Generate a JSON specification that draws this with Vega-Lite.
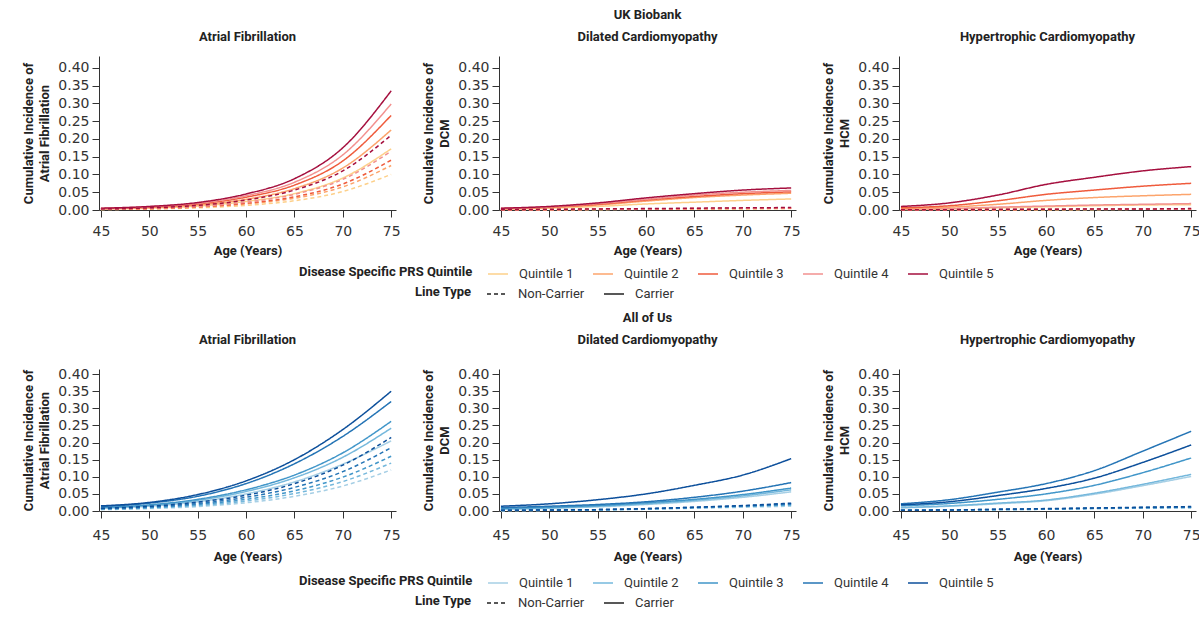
{
"$schema":"https://vega.github.io/schema/vega-lite/v6.json",
"padding":{"left":22,"top":9,"right":5,"bottom":5},
"background":"white",
"config":{
 "view":{"stroke":null},
 "font":"Roboto",
 "title":{"font":"Roboto","fontSize":13,"fontWeight":"bold","color":"#222","lineHeight":22,"anchor":"middle"},
 "axis":{"labelFont":"DejaVu Sans","labelFontSize":14,"labelColor":"#333","titleFont":"Roboto","titleFontSize":13,"titleFontWeight":"bold","titleColor":"#222","domainColor":"#333","tickColor":"#333","tickSize":7,"grid":false,"labelPadding":3,"titleLineHeight":16,"labelFlush":false,"labelOverlap":false},
 "axisX":{"labelPadding":7,"titlePadding":6},
 "axisY":{"titlePadding":6},
 "legend":{"symbolType":"stroke","symbolSize":400,"symbolStrokeWidth":1.5,"labelFont":"Roboto","labelFontSize":13,"labelColor":"#333","titleFont":"Roboto","titleFontSize":13,"titleFontWeight":"bold","titleColor":"#222","columnPadding":16,"labelOffset":10,"titlePadding":14,"padding":0,"direction":"horizontal","titleOrient":"left","orient":"none"}
},
"datasets":{
"ukb":[
{"d":"AF","c":"Carrier","q":"Quintile 1","a":45,"v":0.003},{"d":"AF","c":"Carrier","q":"Quintile 1","a":50,"v":0.005},{"d":"AF","c":"Carrier","q":"Quintile 1","a":55,"v":0.011},{"d":"AF","c":"Carrier","q":"Quintile 1","a":60,"v":0.024},{"d":"AF","c":"Carrier","q":"Quintile 1","a":65,"v":0.046},{"d":"AF","c":"Carrier","q":"Quintile 1","a":70,"v":0.090},{"d":"AF","c":"Carrier","q":"Quintile 1","a":75,"v":0.172},
{"d":"AF","c":"Carrier","q":"Quintile 2","a":45,"v":0.003},{"d":"AF","c":"Carrier","q":"Quintile 2","a":50,"v":0.007},{"d":"AF","c":"Carrier","q":"Quintile 2","a":55,"v":0.014},{"d":"AF","c":"Carrier","q":"Quintile 2","a":60,"v":0.030},{"d":"AF","c":"Carrier","q":"Quintile 2","a":65,"v":0.060},{"d":"AF","c":"Carrier","q":"Quintile 2","a":70,"v":0.118},{"d":"AF","c":"Carrier","q":"Quintile 2","a":75,"v":0.225},
{"d":"AF","c":"Carrier","q":"Quintile 3","a":45,"v":0.004},{"d":"AF","c":"Carrier","q":"Quintile 3","a":50,"v":0.008},{"d":"AF","c":"Carrier","q":"Quintile 3","a":55,"v":0.017},{"d":"AF","c":"Carrier","q":"Quintile 3","a":60,"v":0.036},{"d":"AF","c":"Carrier","q":"Quintile 3","a":65,"v":0.070},{"d":"AF","c":"Carrier","q":"Quintile 3","a":70,"v":0.138},{"d":"AF","c":"Carrier","q":"Quintile 3","a":75,"v":0.266},
{"d":"AF","c":"Carrier","q":"Quintile 4","a":45,"v":0.004},{"d":"AF","c":"Carrier","q":"Quintile 4","a":50,"v":0.009},{"d":"AF","c":"Carrier","q":"Quintile 4","a":55,"v":0.019},{"d":"AF","c":"Carrier","q":"Quintile 4","a":60,"v":0.040},{"d":"AF","c":"Carrier","q":"Quintile 4","a":65,"v":0.078},{"d":"AF","c":"Carrier","q":"Quintile 4","a":70,"v":0.155},{"d":"AF","c":"Carrier","q":"Quintile 4","a":75,"v":0.298},
{"d":"AF","c":"Carrier","q":"Quintile 5","a":45,"v":0.005},{"d":"AF","c":"Carrier","q":"Quintile 5","a":50,"v":0.010},{"d":"AF","c":"Carrier","q":"Quintile 5","a":55,"v":0.021},{"d":"AF","c":"Carrier","q":"Quintile 5","a":60,"v":0.045},{"d":"AF","c":"Carrier","q":"Quintile 5","a":65,"v":0.088},{"d":"AF","c":"Carrier","q":"Quintile 5","a":70,"v":0.175},{"d":"AF","c":"Carrier","q":"Quintile 5","a":75,"v":0.335},
{"d":"AF","c":"Non-Carrier","q":"Quintile 1","a":45,"v":0.001},{"d":"AF","c":"Non-Carrier","q":"Quintile 1","a":50,"v":0.003},{"d":"AF","c":"Non-Carrier","q":"Quintile 1","a":55,"v":0.006},{"d":"AF","c":"Non-Carrier","q":"Quintile 1","a":60,"v":0.013},{"d":"AF","c":"Non-Carrier","q":"Quintile 1","a":65,"v":0.026},{"d":"AF","c":"Non-Carrier","q":"Quintile 1","a":70,"v":0.052},{"d":"AF","c":"Non-Carrier","q":"Quintile 1","a":75,"v":0.100},
{"d":"AF","c":"Non-Carrier","q":"Quintile 2","a":45,"v":0.002},{"d":"AF","c":"Non-Carrier","q":"Quintile 2","a":50,"v":0.003},{"d":"AF","c":"Non-Carrier","q":"Quintile 2","a":55,"v":0.008},{"d":"AF","c":"Non-Carrier","q":"Quintile 2","a":60,"v":0.017},{"d":"AF","c":"Non-Carrier","q":"Quintile 2","a":65,"v":0.033},{"d":"AF","c":"Non-Carrier","q":"Quintile 2","a":70,"v":0.065},{"d":"AF","c":"Non-Carrier","q":"Quintile 2","a":75,"v":0.125},
{"d":"AF","c":"Non-Carrier","q":"Quintile 3","a":45,"v":0.002},{"d":"AF","c":"Non-Carrier","q":"Quintile 3","a":50,"v":0.004},{"d":"AF","c":"Non-Carrier","q":"Quintile 3","a":55,"v":0.009},{"d":"AF","c":"Non-Carrier","q":"Quintile 3","a":60,"v":0.019},{"d":"AF","c":"Non-Carrier","q":"Quintile 3","a":65,"v":0.037},{"d":"AF","c":"Non-Carrier","q":"Quintile 3","a":70,"v":0.073},{"d":"AF","c":"Non-Carrier","q":"Quintile 3","a":75,"v":0.140},
{"d":"AF","c":"Non-Carrier","q":"Quintile 4","a":45,"v":0.002},{"d":"AF","c":"Non-Carrier","q":"Quintile 4","a":50,"v":0.005},{"d":"AF","c":"Non-Carrier","q":"Quintile 4","a":55,"v":0.010},{"d":"AF","c":"Non-Carrier","q":"Quintile 4","a":60,"v":0.022},{"d":"AF","c":"Non-Carrier","q":"Quintile 4","a":65,"v":0.044},{"d":"AF","c":"Non-Carrier","q":"Quintile 4","a":70,"v":0.086},{"d":"AF","c":"Non-Carrier","q":"Quintile 4","a":75,"v":0.165},
{"d":"AF","c":"Non-Carrier","q":"Quintile 5","a":45,"v":0.003},{"d":"AF","c":"Non-Carrier","q":"Quintile 5","a":50,"v":0.006},{"d":"AF","c":"Non-Carrier","q":"Quintile 5","a":55,"v":0.013},{"d":"AF","c":"Non-Carrier","q":"Quintile 5","a":60,"v":0.028},{"d":"AF","c":"Non-Carrier","q":"Quintile 5","a":65,"v":0.056},{"d":"AF","c":"Non-Carrier","q":"Quintile 5","a":70,"v":0.110},{"d":"AF","c":"Non-Carrier","q":"Quintile 5","a":75,"v":0.210},
{"d":"DCM","c":"Carrier","q":"Quintile 1","a":45,"v":0.002},{"d":"DCM","c":"Carrier","q":"Quintile 1","a":50,"v":0.005},{"d":"DCM","c":"Carrier","q":"Quintile 1","a":55,"v":0.010},{"d":"DCM","c":"Carrier","q":"Quintile 1","a":60,"v":0.017},{"d":"DCM","c":"Carrier","q":"Quintile 1","a":65,"v":0.022},{"d":"DCM","c":"Carrier","q":"Quintile 1","a":70,"v":0.027},{"d":"DCM","c":"Carrier","q":"Quintile 1","a":75,"v":0.031},
{"d":"DCM","c":"Carrier","q":"Quintile 2","a":45,"v":0.003},{"d":"DCM","c":"Carrier","q":"Quintile 2","a":50,"v":0.007},{"d":"DCM","c":"Carrier","q":"Quintile 2","a":55,"v":0.014},{"d":"DCM","c":"Carrier","q":"Quintile 2","a":60,"v":0.025},{"d":"DCM","c":"Carrier","q":"Quintile 2","a":65,"v":0.035},{"d":"DCM","c":"Carrier","q":"Quintile 2","a":70,"v":0.042},{"d":"DCM","c":"Carrier","q":"Quintile 2","a":75,"v":0.047},
{"d":"DCM","c":"Carrier","q":"Quintile 3","a":45,"v":0.004},{"d":"DCM","c":"Carrier","q":"Quintile 3","a":50,"v":0.008},{"d":"DCM","c":"Carrier","q":"Quintile 3","a":55,"v":0.016},{"d":"DCM","c":"Carrier","q":"Quintile 3","a":60,"v":0.028},{"d":"DCM","c":"Carrier","q":"Quintile 3","a":65,"v":0.038},{"d":"DCM","c":"Carrier","q":"Quintile 3","a":70,"v":0.046},{"d":"DCM","c":"Carrier","q":"Quintile 3","a":75,"v":0.051},
{"d":"DCM","c":"Carrier","q":"Quintile 4","a":45,"v":0.004},{"d":"DCM","c":"Carrier","q":"Quintile 4","a":50,"v":0.009},{"d":"DCM","c":"Carrier","q":"Quintile 4","a":55,"v":0.018},{"d":"DCM","c":"Carrier","q":"Quintile 4","a":60,"v":0.030},{"d":"DCM","c":"Carrier","q":"Quintile 4","a":65,"v":0.042},{"d":"DCM","c":"Carrier","q":"Quintile 4","a":70,"v":0.050},{"d":"DCM","c":"Carrier","q":"Quintile 4","a":75,"v":0.055},
{"d":"DCM","c":"Carrier","q":"Quintile 5","a":45,"v":0.005},{"d":"DCM","c":"Carrier","q":"Quintile 5","a":50,"v":0.010},{"d":"DCM","c":"Carrier","q":"Quintile 5","a":55,"v":0.020},{"d":"DCM","c":"Carrier","q":"Quintile 5","a":60,"v":0.034},{"d":"DCM","c":"Carrier","q":"Quintile 5","a":65,"v":0.046},{"d":"DCM","c":"Carrier","q":"Quintile 5","a":70,"v":0.056},{"d":"DCM","c":"Carrier","q":"Quintile 5","a":75,"v":0.062},
{"d":"DCM","c":"Non-Carrier","q":"Quintile 1","a":45,"v":0.000},{"d":"DCM","c":"Non-Carrier","q":"Quintile 1","a":50,"v":0.001},{"d":"DCM","c":"Non-Carrier","q":"Quintile 1","a":55,"v":0.001},{"d":"DCM","c":"Non-Carrier","q":"Quintile 1","a":60,"v":0.002},{"d":"DCM","c":"Non-Carrier","q":"Quintile 1","a":65,"v":0.003},{"d":"DCM","c":"Non-Carrier","q":"Quintile 1","a":70,"v":0.003},{"d":"DCM","c":"Non-Carrier","q":"Quintile 1","a":75,"v":0.004},
{"d":"DCM","c":"Non-Carrier","q":"Quintile 2","a":45,"v":0.000},{"d":"DCM","c":"Non-Carrier","q":"Quintile 2","a":50,"v":0.001},{"d":"DCM","c":"Non-Carrier","q":"Quintile 2","a":55,"v":0.002},{"d":"DCM","c":"Non-Carrier","q":"Quintile 2","a":60,"v":0.002},{"d":"DCM","c":"Non-Carrier","q":"Quintile 2","a":65,"v":0.003},{"d":"DCM","c":"Non-Carrier","q":"Quintile 2","a":70,"v":0.004},{"d":"DCM","c":"Non-Carrier","q":"Quintile 2","a":75,"v":0.005},
{"d":"DCM","c":"Non-Carrier","q":"Quintile 3","a":45,"v":0.001},{"d":"DCM","c":"Non-Carrier","q":"Quintile 3","a":50,"v":0.001},{"d":"DCM","c":"Non-Carrier","q":"Quintile 3","a":55,"v":0.002},{"d":"DCM","c":"Non-Carrier","q":"Quintile 3","a":60,"v":0.003},{"d":"DCM","c":"Non-Carrier","q":"Quintile 3","a":65,"v":0.004},{"d":"DCM","c":"Non-Carrier","q":"Quintile 3","a":70,"v":0.005},{"d":"DCM","c":"Non-Carrier","q":"Quintile 3","a":75,"v":0.005},
{"d":"DCM","c":"Non-Carrier","q":"Quintile 4","a":45,"v":0.001},{"d":"DCM","c":"Non-Carrier","q":"Quintile 4","a":50,"v":0.001},{"d":"DCM","c":"Non-Carrier","q":"Quintile 4","a":55,"v":0.002},{"d":"DCM","c":"Non-Carrier","q":"Quintile 4","a":60,"v":0.003},{"d":"DCM","c":"Non-Carrier","q":"Quintile 4","a":65,"v":0.004},{"d":"DCM","c":"Non-Carrier","q":"Quintile 4","a":70,"v":0.005},{"d":"DCM","c":"Non-Carrier","q":"Quintile 4","a":75,"v":0.006},
{"d":"DCM","c":"Non-Carrier","q":"Quintile 5","a":45,"v":0.001},{"d":"DCM","c":"Non-Carrier","q":"Quintile 5","a":50,"v":0.002},{"d":"DCM","c":"Non-Carrier","q":"Quintile 5","a":55,"v":0.003},{"d":"DCM","c":"Non-Carrier","q":"Quintile 5","a":60,"v":0.004},{"d":"DCM","c":"Non-Carrier","q":"Quintile 5","a":65,"v":0.005},{"d":"DCM","c":"Non-Carrier","q":"Quintile 5","a":70,"v":0.006},{"d":"DCM","c":"Non-Carrier","q":"Quintile 5","a":75,"v":0.007},
{"d":"HCM","c":"Carrier","q":"Quintile 1","a":45,"v":0.001},{"d":"HCM","c":"Carrier","q":"Quintile 1","a":50,"v":0.003},{"d":"HCM","c":"Carrier","q":"Quintile 1","a":55,"v":0.006},{"d":"HCM","c":"Carrier","q":"Quintile 1","a":60,"v":0.009},{"d":"HCM","c":"Carrier","q":"Quintile 1","a":65,"v":0.012},{"d":"HCM","c":"Carrier","q":"Quintile 1","a":70,"v":0.014},{"d":"HCM","c":"Carrier","q":"Quintile 1","a":75,"v":0.015},
{"d":"HCM","c":"Carrier","q":"Quintile 4","a":45,"v":0.002},{"d":"HCM","c":"Carrier","q":"Quintile 4","a":50,"v":0.004},{"d":"HCM","c":"Carrier","q":"Quintile 4","a":55,"v":0.008},{"d":"HCM","c":"Carrier","q":"Quintile 4","a":60,"v":0.011},{"d":"HCM","c":"Carrier","q":"Quintile 4","a":65,"v":0.014},{"d":"HCM","c":"Carrier","q":"Quintile 4","a":70,"v":0.016},{"d":"HCM","c":"Carrier","q":"Quintile 4","a":75,"v":0.018},
{"d":"HCM","c":"Carrier","q":"Quintile 2","a":45,"v":0.004},{"d":"HCM","c":"Carrier","q":"Quintile 2","a":50,"v":0.008},{"d":"HCM","c":"Carrier","q":"Quintile 2","a":55,"v":0.016},{"d":"HCM","c":"Carrier","q":"Quintile 2","a":60,"v":0.027},{"d":"HCM","c":"Carrier","q":"Quintile 2","a":65,"v":0.035},{"d":"HCM","c":"Carrier","q":"Quintile 2","a":70,"v":0.040},{"d":"HCM","c":"Carrier","q":"Quintile 2","a":75,"v":0.044},
{"d":"HCM","c":"Carrier","q":"Quintile 3","a":45,"v":0.006},{"d":"HCM","c":"Carrier","q":"Quintile 3","a":50,"v":0.012},{"d":"HCM","c":"Carrier","q":"Quintile 3","a":55,"v":0.026},{"d":"HCM","c":"Carrier","q":"Quintile 3","a":60,"v":0.044},{"d":"HCM","c":"Carrier","q":"Quintile 3","a":65,"v":0.056},{"d":"HCM","c":"Carrier","q":"Quintile 3","a":70,"v":0.067},{"d":"HCM","c":"Carrier","q":"Quintile 3","a":75,"v":0.075},
{"d":"HCM","c":"Carrier","q":"Quintile 5","a":45,"v":0.010},{"d":"HCM","c":"Carrier","q":"Quintile 5","a":50,"v":0.020},{"d":"HCM","c":"Carrier","q":"Quintile 5","a":55,"v":0.042},{"d":"HCM","c":"Carrier","q":"Quintile 5","a":60,"v":0.072},{"d":"HCM","c":"Carrier","q":"Quintile 5","a":65,"v":0.092},{"d":"HCM","c":"Carrier","q":"Quintile 5","a":70,"v":0.110},{"d":"HCM","c":"Carrier","q":"Quintile 5","a":75,"v":0.122},
{"d":"HCM","c":"Non-Carrier","q":"Quintile 1","a":45,"v":0.000},{"d":"HCM","c":"Non-Carrier","q":"Quintile 1","a":50,"v":0.000},{"d":"HCM","c":"Non-Carrier","q":"Quintile 1","a":55,"v":0.001},{"d":"HCM","c":"Non-Carrier","q":"Quintile 1","a":60,"v":0.001},{"d":"HCM","c":"Non-Carrier","q":"Quintile 1","a":65,"v":0.001},{"d":"HCM","c":"Non-Carrier","q":"Quintile 1","a":70,"v":0.002},{"d":"HCM","c":"Non-Carrier","q":"Quintile 1","a":75,"v":0.002},
{"d":"HCM","c":"Non-Carrier","q":"Quintile 2","a":45,"v":0.000},{"d":"HCM","c":"Non-Carrier","q":"Quintile 2","a":50,"v":0.001},{"d":"HCM","c":"Non-Carrier","q":"Quintile 2","a":55,"v":0.001},{"d":"HCM","c":"Non-Carrier","q":"Quintile 2","a":60,"v":0.001},{"d":"HCM","c":"Non-Carrier","q":"Quintile 2","a":65,"v":0.002},{"d":"HCM","c":"Non-Carrier","q":"Quintile 2","a":70,"v":0.002},{"d":"HCM","c":"Non-Carrier","q":"Quintile 2","a":75,"v":0.002},
{"d":"HCM","c":"Non-Carrier","q":"Quintile 3","a":45,"v":0.000},{"d":"HCM","c":"Non-Carrier","q":"Quintile 3","a":50,"v":0.001},{"d":"HCM","c":"Non-Carrier","q":"Quintile 3","a":55,"v":0.001},{"d":"HCM","c":"Non-Carrier","q":"Quintile 3","a":60,"v":0.002},{"d":"HCM","c":"Non-Carrier","q":"Quintile 3","a":65,"v":0.002},{"d":"HCM","c":"Non-Carrier","q":"Quintile 3","a":70,"v":0.003},{"d":"HCM","c":"Non-Carrier","q":"Quintile 3","a":75,"v":0.003},
{"d":"HCM","c":"Non-Carrier","q":"Quintile 4","a":45,"v":0.001},{"d":"HCM","c":"Non-Carrier","q":"Quintile 4","a":50,"v":0.001},{"d":"HCM","c":"Non-Carrier","q":"Quintile 4","a":55,"v":0.001},{"d":"HCM","c":"Non-Carrier","q":"Quintile 4","a":60,"v":0.002},{"d":"HCM","c":"Non-Carrier","q":"Quintile 4","a":65,"v":0.002},{"d":"HCM","c":"Non-Carrier","q":"Quintile 4","a":70,"v":0.003},{"d":"HCM","c":"Non-Carrier","q":"Quintile 4","a":75,"v":0.003},
{"d":"HCM","c":"Non-Carrier","q":"Quintile 5","a":45,"v":0.001},{"d":"HCM","c":"Non-Carrier","q":"Quintile 5","a":50,"v":0.001},{"d":"HCM","c":"Non-Carrier","q":"Quintile 5","a":55,"v":0.002},{"d":"HCM","c":"Non-Carrier","q":"Quintile 5","a":60,"v":0.002},{"d":"HCM","c":"Non-Carrier","q":"Quintile 5","a":65,"v":0.003},{"d":"HCM","c":"Non-Carrier","q":"Quintile 5","a":70,"v":0.003},{"d":"HCM","c":"Non-Carrier","q":"Quintile 5","a":75,"v":0.004}
],
"aou":[
{"d":"AF","c":"Carrier","q":"Quintile 1","a":45,"v":0.008},{"d":"AF","c":"Carrier","q":"Quintile 1","a":50,"v":0.014},{"d":"AF","c":"Carrier","q":"Quintile 1","a":55,"v":0.027},{"d":"AF","c":"Carrier","q":"Quintile 1","a":60,"v":0.050},{"d":"AF","c":"Carrier","q":"Quintile 1","a":65,"v":0.085},{"d":"AF","c":"Carrier","q":"Quintile 1","a":70,"v":0.137},{"d":"AF","c":"Carrier","q":"Quintile 1","a":75,"v":0.205},
{"d":"AF","c":"Carrier","q":"Quintile 2","a":45,"v":0.009},{"d":"AF","c":"Carrier","q":"Quintile 2","a":50,"v":0.016},{"d":"AF","c":"Carrier","q":"Quintile 2","a":55,"v":0.031},{"d":"AF","c":"Carrier","q":"Quintile 2","a":60,"v":0.057},{"d":"AF","c":"Carrier","q":"Quintile 2","a":65,"v":0.097},{"d":"AF","c":"Carrier","q":"Quintile 2","a":70,"v":0.157},{"d":"AF","c":"Carrier","q":"Quintile 2","a":75,"v":0.242},
{"d":"AF","c":"Carrier","q":"Quintile 3","a":45,"v":0.010},{"d":"AF","c":"Carrier","q":"Quintile 3","a":50,"v":0.018},{"d":"AF","c":"Carrier","q":"Quintile 3","a":55,"v":0.034},{"d":"AF","c":"Carrier","q":"Quintile 3","a":60,"v":0.062},{"d":"AF","c":"Carrier","q":"Quintile 3","a":65,"v":0.105},{"d":"AF","c":"Carrier","q":"Quintile 3","a":70,"v":0.170},{"d":"AF","c":"Carrier","q":"Quintile 3","a":75,"v":0.262},
{"d":"AF","c":"Carrier","q":"Quintile 4","a":45,"v":0.013},{"d":"AF","c":"Carrier","q":"Quintile 4","a":50,"v":0.023},{"d":"AF","c":"Carrier","q":"Quintile 4","a":55,"v":0.043},{"d":"AF","c":"Carrier","q":"Quintile 4","a":60,"v":0.080},{"d":"AF","c":"Carrier","q":"Quintile 4","a":65,"v":0.138},{"d":"AF","c":"Carrier","q":"Quintile 4","a":70,"v":0.218},{"d":"AF","c":"Carrier","q":"Quintile 4","a":75,"v":0.320},
{"d":"AF","c":"Carrier","q":"Quintile 5","a":45,"v":0.015},{"d":"AF","c":"Carrier","q":"Quintile 5","a":50,"v":0.025},{"d":"AF","c":"Carrier","q":"Quintile 5","a":55,"v":0.048},{"d":"AF","c":"Carrier","q":"Quintile 5","a":60,"v":0.088},{"d":"AF","c":"Carrier","q":"Quintile 5","a":65,"v":0.150},{"d":"AF","c":"Carrier","q":"Quintile 5","a":70,"v":0.238},{"d":"AF","c":"Carrier","q":"Quintile 5","a":75,"v":0.350},
{"d":"AF","c":"Non-Carrier","q":"Quintile 1","a":45,"v":0.004},{"d":"AF","c":"Non-Carrier","q":"Quintile 1","a":50,"v":0.007},{"d":"AF","c":"Non-Carrier","q":"Quintile 1","a":55,"v":0.013},{"d":"AF","c":"Non-Carrier","q":"Quintile 1","a":60,"v":0.024},{"d":"AF","c":"Non-Carrier","q":"Quintile 1","a":65,"v":0.043},{"d":"AF","c":"Non-Carrier","q":"Quintile 1","a":70,"v":0.073},{"d":"AF","c":"Non-Carrier","q":"Quintile 1","a":75,"v":0.120},
{"d":"AF","c":"Non-Carrier","q":"Quintile 2","a":45,"v":0.005},{"d":"AF","c":"Non-Carrier","q":"Quintile 2","a":50,"v":0.009},{"d":"AF","c":"Non-Carrier","q":"Quintile 2","a":55,"v":0.016},{"d":"AF","c":"Non-Carrier","q":"Quintile 2","a":60,"v":0.029},{"d":"AF","c":"Non-Carrier","q":"Quintile 2","a":65,"v":0.051},{"d":"AF","c":"Non-Carrier","q":"Quintile 2","a":70,"v":0.086},{"d":"AF","c":"Non-Carrier","q":"Quintile 2","a":75,"v":0.140},
{"d":"AF","c":"Non-Carrier","q":"Quintile 3","a":45,"v":0.006},{"d":"AF","c":"Non-Carrier","q":"Quintile 3","a":50,"v":0.010},{"d":"AF","c":"Non-Carrier","q":"Quintile 3","a":55,"v":0.019},{"d":"AF","c":"Non-Carrier","q":"Quintile 3","a":60,"v":0.034},{"d":"AF","c":"Non-Carrier","q":"Quintile 3","a":65,"v":0.059},{"d":"AF","c":"Non-Carrier","q":"Quintile 3","a":70,"v":0.099},{"d":"AF","c":"Non-Carrier","q":"Quintile 3","a":75,"v":0.160},
{"d":"AF","c":"Non-Carrier","q":"Quintile 4","a":45,"v":0.007},{"d":"AF","c":"Non-Carrier","q":"Quintile 4","a":50,"v":0.012},{"d":"AF","c":"Non-Carrier","q":"Quintile 4","a":55,"v":0.022},{"d":"AF","c":"Non-Carrier","q":"Quintile 4","a":60,"v":0.040},{"d":"AF","c":"Non-Carrier","q":"Quintile 4","a":65,"v":0.069},{"d":"AF","c":"Non-Carrier","q":"Quintile 4","a":70,"v":0.115},{"d":"AF","c":"Non-Carrier","q":"Quintile 4","a":75,"v":0.185},
{"d":"AF","c":"Non-Carrier","q":"Quintile 5","a":45,"v":0.008},{"d":"AF","c":"Non-Carrier","q":"Quintile 5","a":50,"v":0.014},{"d":"AF","c":"Non-Carrier","q":"Quintile 5","a":55,"v":0.026},{"d":"AF","c":"Non-Carrier","q":"Quintile 5","a":60,"v":0.046},{"d":"AF","c":"Non-Carrier","q":"Quintile 5","a":65,"v":0.080},{"d":"AF","c":"Non-Carrier","q":"Quintile 5","a":70,"v":0.134},{"d":"AF","c":"Non-Carrier","q":"Quintile 5","a":75,"v":0.215},
{"d":"DCM","c":"Carrier","q":"Quintile 1","a":45,"v":0.005},{"d":"DCM","c":"Carrier","q":"Quintile 1","a":50,"v":0.008},{"d":"DCM","c":"Carrier","q":"Quintile 1","a":55,"v":0.012},{"d":"DCM","c":"Carrier","q":"Quintile 1","a":60,"v":0.019},{"d":"DCM","c":"Carrier","q":"Quintile 1","a":65,"v":0.028},{"d":"DCM","c":"Carrier","q":"Quintile 1","a":70,"v":0.040},{"d":"DCM","c":"Carrier","q":"Quintile 1","a":75,"v":0.056},
{"d":"DCM","c":"Carrier","q":"Quintile 2","a":45,"v":0.006},{"d":"DCM","c":"Carrier","q":"Quintile 2","a":50,"v":0.009},{"d":"DCM","c":"Carrier","q":"Quintile 2","a":55,"v":0.014},{"d":"DCM","c":"Carrier","q":"Quintile 2","a":60,"v":0.021},{"d":"DCM","c":"Carrier","q":"Quintile 2","a":65,"v":0.031},{"d":"DCM","c":"Carrier","q":"Quintile 2","a":70,"v":0.044},{"d":"DCM","c":"Carrier","q":"Quintile 2","a":75,"v":0.062},
{"d":"DCM","c":"Carrier","q":"Quintile 3","a":45,"v":0.008},{"d":"DCM","c":"Carrier","q":"Quintile 3","a":50,"v":0.011},{"d":"DCM","c":"Carrier","q":"Quintile 3","a":55,"v":0.016},{"d":"DCM","c":"Carrier","q":"Quintile 3","a":60,"v":0.024},{"d":"DCM","c":"Carrier","q":"Quintile 3","a":65,"v":0.034},{"d":"DCM","c":"Carrier","q":"Quintile 3","a":70,"v":0.048},{"d":"DCM","c":"Carrier","q":"Quintile 3","a":75,"v":0.067},
{"d":"DCM","c":"Carrier","q":"Quintile 4","a":45,"v":0.010},{"d":"DCM","c":"Carrier","q":"Quintile 4","a":50,"v":0.014},{"d":"DCM","c":"Carrier","q":"Quintile 4","a":55,"v":0.019},{"d":"DCM","c":"Carrier","q":"Quintile 4","a":60,"v":0.027},{"d":"DCM","c":"Carrier","q":"Quintile 4","a":65,"v":0.040},{"d":"DCM","c":"Carrier","q":"Quintile 4","a":70,"v":0.058},{"d":"DCM","c":"Carrier","q":"Quintile 4","a":75,"v":0.083},
{"d":"DCM","c":"Carrier","q":"Quintile 5","a":45,"v":0.014},{"d":"DCM","c":"Carrier","q":"Quintile 5","a":50,"v":0.021},{"d":"DCM","c":"Carrier","q":"Quintile 5","a":55,"v":0.033},{"d":"DCM","c":"Carrier","q":"Quintile 5","a":60,"v":0.050},{"d":"DCM","c":"Carrier","q":"Quintile 5","a":65,"v":0.075},{"d":"DCM","c":"Carrier","q":"Quintile 5","a":70,"v":0.105},{"d":"DCM","c":"Carrier","q":"Quintile 5","a":75,"v":0.153},
{"d":"DCM","c":"Non-Carrier","q":"Quintile 1","a":45,"v":0.001},{"d":"DCM","c":"Non-Carrier","q":"Quintile 1","a":50,"v":0.002},{"d":"DCM","c":"Non-Carrier","q":"Quintile 1","a":55,"v":0.003},{"d":"DCM","c":"Non-Carrier","q":"Quintile 1","a":60,"v":0.005},{"d":"DCM","c":"Non-Carrier","q":"Quintile 1","a":65,"v":0.008},{"d":"DCM","c":"Non-Carrier","q":"Quintile 1","a":70,"v":0.011},{"d":"DCM","c":"Non-Carrier","q":"Quintile 1","a":75,"v":0.014},
{"d":"DCM","c":"Non-Carrier","q":"Quintile 2","a":45,"v":0.001},{"d":"DCM","c":"Non-Carrier","q":"Quintile 2","a":50,"v":0.002},{"d":"DCM","c":"Non-Carrier","q":"Quintile 2","a":55,"v":0.003},{"d":"DCM","c":"Non-Carrier","q":"Quintile 2","a":60,"v":0.006},{"d":"DCM","c":"Non-Carrier","q":"Quintile 2","a":65,"v":0.009},{"d":"DCM","c":"Non-Carrier","q":"Quintile 2","a":70,"v":0.013},{"d":"DCM","c":"Non-Carrier","q":"Quintile 2","a":75,"v":0.017},
{"d":"DCM","c":"Non-Carrier","q":"Quintile 3","a":45,"v":0.002},{"d":"DCM","c":"Non-Carrier","q":"Quintile 3","a":50,"v":0.003},{"d":"DCM","c":"Non-Carrier","q":"Quintile 3","a":55,"v":0.004},{"d":"DCM","c":"Non-Carrier","q":"Quintile 3","a":60,"v":0.006},{"d":"DCM","c":"Non-Carrier","q":"Quintile 3","a":65,"v":0.010},{"d":"DCM","c":"Non-Carrier","q":"Quintile 3","a":70,"v":0.014},{"d":"DCM","c":"Non-Carrier","q":"Quintile 3","a":75,"v":0.019},
{"d":"DCM","c":"Non-Carrier","q":"Quintile 4","a":45,"v":0.002},{"d":"DCM","c":"Non-Carrier","q":"Quintile 4","a":50,"v":0.003},{"d":"DCM","c":"Non-Carrier","q":"Quintile 4","a":55,"v":0.004},{"d":"DCM","c":"Non-Carrier","q":"Quintile 4","a":60,"v":0.007},{"d":"DCM","c":"Non-Carrier","q":"Quintile 4","a":65,"v":0.011},{"d":"DCM","c":"Non-Carrier","q":"Quintile 4","a":70,"v":0.015},{"d":"DCM","c":"Non-Carrier","q":"Quintile 4","a":75,"v":0.021},
{"d":"DCM","c":"Non-Carrier","q":"Quintile 5","a":45,"v":0.002},{"d":"DCM","c":"Non-Carrier","q":"Quintile 5","a":50,"v":0.003},{"d":"DCM","c":"Non-Carrier","q":"Quintile 5","a":55,"v":0.004},{"d":"DCM","c":"Non-Carrier","q":"Quintile 5","a":60,"v":0.007},{"d":"DCM","c":"Non-Carrier","q":"Quintile 5","a":65,"v":0.011},{"d":"DCM","c":"Non-Carrier","q":"Quintile 5","a":70,"v":0.016},{"d":"DCM","c":"Non-Carrier","q":"Quintile 5","a":75,"v":0.023},
{"d":"HCM","c":"Carrier","q":"Quintile 1","a":45,"v":0.009},{"d":"HCM","c":"Carrier","q":"Quintile 1","a":50,"v":0.014},{"d":"HCM","c":"Carrier","q":"Quintile 1","a":55,"v":0.021},{"d":"HCM","c":"Carrier","q":"Quintile 1","a":60,"v":0.030},{"d":"HCM","c":"Carrier","q":"Quintile 1","a":65,"v":0.049},{"d":"HCM","c":"Carrier","q":"Quintile 1","a":70,"v":0.074},{"d":"HCM","c":"Carrier","q":"Quintile 1","a":75,"v":0.101},
{"d":"HCM","c":"Carrier","q":"Quintile 2","a":45,"v":0.010},{"d":"HCM","c":"Carrier","q":"Quintile 2","a":50,"v":0.015},{"d":"HCM","c":"Carrier","q":"Quintile 2","a":55,"v":0.023},{"d":"HCM","c":"Carrier","q":"Quintile 2","a":60,"v":0.032},{"d":"HCM","c":"Carrier","q":"Quintile 2","a":65,"v":0.052},{"d":"HCM","c":"Carrier","q":"Quintile 2","a":70,"v":0.078},{"d":"HCM","c":"Carrier","q":"Quintile 2","a":75,"v":0.107},
{"d":"HCM","c":"Carrier","q":"Quintile 3","a":45,"v":0.015},{"d":"HCM","c":"Carrier","q":"Quintile 3","a":50,"v":0.022},{"d":"HCM","c":"Carrier","q":"Quintile 3","a":55,"v":0.034},{"d":"HCM","c":"Carrier","q":"Quintile 3","a":60,"v":0.050},{"d":"HCM","c":"Carrier","q":"Quintile 3","a":65,"v":0.075},{"d":"HCM","c":"Carrier","q":"Quintile 3","a":70,"v":0.112},{"d":"HCM","c":"Carrier","q":"Quintile 3","a":75,"v":0.155},
{"d":"HCM","c":"Carrier","q":"Quintile 4","a":45,"v":0.021},{"d":"HCM","c":"Carrier","q":"Quintile 4","a":50,"v":0.033},{"d":"HCM","c":"Carrier","q":"Quintile 4","a":55,"v":0.055},{"d":"HCM","c":"Carrier","q":"Quintile 4","a":60,"v":0.080},{"d":"HCM","c":"Carrier","q":"Quintile 4","a":65,"v":0.118},{"d":"HCM","c":"Carrier","q":"Quintile 4","a":70,"v":0.175},{"d":"HCM","c":"Carrier","q":"Quintile 4","a":75,"v":0.233},
{"d":"HCM","c":"Carrier","q":"Quintile 5","a":45,"v":0.018},{"d":"HCM","c":"Carrier","q":"Quintile 5","a":50,"v":0.027},{"d":"HCM","c":"Carrier","q":"Quintile 5","a":55,"v":0.045},{"d":"HCM","c":"Carrier","q":"Quintile 5","a":60,"v":0.066},{"d":"HCM","c":"Carrier","q":"Quintile 5","a":65,"v":0.096},{"d":"HCM","c":"Carrier","q":"Quintile 5","a":70,"v":0.142},{"d":"HCM","c":"Carrier","q":"Quintile 5","a":75,"v":0.193},
{"d":"HCM","c":"Non-Carrier","q":"Quintile 1","a":45,"v":0.002},{"d":"HCM","c":"Non-Carrier","q":"Quintile 1","a":50,"v":0.003},{"d":"HCM","c":"Non-Carrier","q":"Quintile 1","a":55,"v":0.004},{"d":"HCM","c":"Non-Carrier","q":"Quintile 1","a":60,"v":0.005},{"d":"HCM","c":"Non-Carrier","q":"Quintile 1","a":65,"v":0.007},{"d":"HCM","c":"Non-Carrier","q":"Quintile 1","a":70,"v":0.008},{"d":"HCM","c":"Non-Carrier","q":"Quintile 1","a":75,"v":0.009},
{"d":"HCM","c":"Non-Carrier","q":"Quintile 2","a":45,"v":0.002},{"d":"HCM","c":"Non-Carrier","q":"Quintile 2","a":50,"v":0.003},{"d":"HCM","c":"Non-Carrier","q":"Quintile 2","a":55,"v":0.004},{"d":"HCM","c":"Non-Carrier","q":"Quintile 2","a":60,"v":0.005},{"d":"HCM","c":"Non-Carrier","q":"Quintile 2","a":65,"v":0.007},{"d":"HCM","c":"Non-Carrier","q":"Quintile 2","a":70,"v":0.009},{"d":"HCM","c":"Non-Carrier","q":"Quintile 2","a":75,"v":0.010},
{"d":"HCM","c":"Non-Carrier","q":"Quintile 3","a":45,"v":0.002},{"d":"HCM","c":"Non-Carrier","q":"Quintile 3","a":50,"v":0.003},{"d":"HCM","c":"Non-Carrier","q":"Quintile 3","a":55,"v":0.004},{"d":"HCM","c":"Non-Carrier","q":"Quintile 3","a":60,"v":0.006},{"d":"HCM","c":"Non-Carrier","q":"Quintile 3","a":65,"v":0.008},{"d":"HCM","c":"Non-Carrier","q":"Quintile 3","a":70,"v":0.010},{"d":"HCM","c":"Non-Carrier","q":"Quintile 3","a":75,"v":0.011},
{"d":"HCM","c":"Non-Carrier","q":"Quintile 4","a":45,"v":0.002},{"d":"HCM","c":"Non-Carrier","q":"Quintile 4","a":50,"v":0.003},{"d":"HCM","c":"Non-Carrier","q":"Quintile 4","a":55,"v":0.005},{"d":"HCM","c":"Non-Carrier","q":"Quintile 4","a":60,"v":0.006},{"d":"HCM","c":"Non-Carrier","q":"Quintile 4","a":65,"v":0.008},{"d":"HCM","c":"Non-Carrier","q":"Quintile 4","a":70,"v":0.010},{"d":"HCM","c":"Non-Carrier","q":"Quintile 4","a":75,"v":0.012},
{"d":"HCM","c":"Non-Carrier","q":"Quintile 5","a":45,"v":0.002},{"d":"HCM","c":"Non-Carrier","q":"Quintile 5","a":50,"v":0.003},{"d":"HCM","c":"Non-Carrier","q":"Quintile 5","a":55,"v":0.005},{"d":"HCM","c":"Non-Carrier","q":"Quintile 5","a":60,"v":0.007},{"d":"HCM","c":"Non-Carrier","q":"Quintile 5","a":65,"v":0.009},{"d":"HCM","c":"Non-Carrier","q":"Quintile 5","a":70,"v":0.011},{"d":"HCM","c":"Non-Carrier","q":"Quintile 5","a":75,"v":0.013}
]
},
"columns":3,
"bounds":"flush",
"spacing":{"row":159,"column":103},
"resolve":{"scale":{"x":"independent","y":"independent","color":"independent","strokeDash":"independent"},"legend":{"color":"independent","strokeDash":"independent"}},
"concat":[
{"width":297,"height":154,"title":{"text":"Atrial Fibrillation","offset":12},"data":{"name":"ukb"},"transform":[{"filter":"datum.d === 'AF'"}],
 "mark":{"type":"line","strokeWidth":1.5,"interpolate":"monotone"},
 "encoding":{
  "x":{"field":"a","type":"quantitative","scale":{"domain":[44.8,75.5],"nice":false,"zero":false},"axis":{"values":[45,50,55,60,65,70,75],"format":"d","title":"Age (Years)"}},
  "y":{"field":"v","type":"quantitative","scale":{"domain":[0,0.433],"nice":false},"axis":{"values":[0,0.05,0.1,0.15,0.2,0.25,0.3,0.35,0.4],"format":".2f","title":["Cumulative Incidence of","Atrial Fibrillation"]}},
  "color":{"field":"q","type":"nominal","scale":{"domain":["Quintile 1","Quintile 2","Quintile 3","Quintile 4","Quintile 5"],"range":["#fdd08a","#fca46c","#ef5b3c","#f2918f","#a50f3e"]},"legend":null},
  "strokeDash":{"field":"c","type":"nominal","scale":{"domain":["Non-Carrier","Carrier"],"range":[[4,3],[1,0]]},"legend":null}
 }},
{"width":297,"height":154,"title":{"text":["UK Biobank","Dilated Cardiomyopathy"],"offset":12},"data":{"name":"ukb"},"transform":[{"filter":"datum.d === 'DCM'"}],
 "mark":{"type":"line","strokeWidth":1.5,"interpolate":"monotone"},
 "encoding":{
  "x":{"field":"a","type":"quantitative","scale":{"domain":[44.8,75.5],"nice":false,"zero":false},"axis":{"values":[45,50,55,60,65,70,75],"format":"d","title":"Age (Years)"}},
  "y":{"field":"v","type":"quantitative","scale":{"domain":[0,0.433],"nice":false},"axis":{"values":[0,0.05,0.1,0.15,0.2,0.25,0.3,0.35,0.4],"format":".2f","title":["Cumulative Incidence of","DCM"]}},
  "color":{"field":"q","type":"nominal","scale":{"domain":["Quintile 1","Quintile 2","Quintile 3","Quintile 4","Quintile 5"],"range":["#fdd08a","#fca46c","#ef5b3c","#f2918f","#a50f3e"]},"legend":{"title":"Disease Specific PRS Quintile","legendX":-200,"legendY":207}},
  "strokeDash":{"field":"c","type":"nominal","scale":{"domain":["Non-Carrier","Carrier"],"range":[[4,3],[1,0]]},"legend":{"title":"Line Type","legendX":-84,"legendY":227,"symbolStrokeColor":"#222"}}
 }},
{"width":297,"height":154,"title":{"text":"Hypertrophic Cardiomyopathy","offset":12},"data":{"name":"ukb"},"transform":[{"filter":"datum.d === 'HCM'"}],
 "mark":{"type":"line","strokeWidth":1.5,"interpolate":"monotone"},
 "encoding":{
  "x":{"field":"a","type":"quantitative","scale":{"domain":[44.8,75.5],"nice":false,"zero":false},"axis":{"values":[45,50,55,60,65,70,75],"format":"d","title":"Age (Years)"}},
  "y":{"field":"v","type":"quantitative","scale":{"domain":[0,0.433],"nice":false},"axis":{"values":[0,0.05,0.1,0.15,0.2,0.25,0.3,0.35,0.4],"format":".2f","title":["Cumulative Incidence of","HCM"]}},
  "color":{"field":"q","type":"nominal","scale":{"domain":["Quintile 1","Quintile 2","Quintile 3","Quintile 4","Quintile 5"],"range":["#fdd08a","#fca46c","#ef5b3c","#f2918f","#a50f3e"]},"legend":null},
  "strokeDash":{"field":"c","type":"nominal","scale":{"domain":["Non-Carrier","Carrier"],"range":[[4,3],[1,0]]},"legend":null}
 }},
{"width":297,"height":142,"title":{"text":"Atrial Fibrillation","offset":20},"data":{"name":"aou"},"transform":[{"filter":"datum.d === 'AF'"}],
 "mark":{"type":"line","strokeWidth":1.5,"interpolate":"monotone"},
 "encoding":{
  "x":{"field":"a","type":"quantitative","scale":{"domain":[44.8,75.5],"nice":false,"zero":false},"axis":{"values":[45,50,55,60,65,70,75],"format":"d","title":"Age (Years)","labelPadding":10,"titlePadding":8}},
  "y":{"field":"v","type":"quantitative","scale":{"domain":[0,0.415],"nice":false},"axis":{"values":[0,0.05,0.1,0.15,0.2,0.25,0.3,0.35,0.4],"format":".2f","title":["Cumulative Incidence of","Atrial Fibrillation"]}},
  "color":{"field":"q","type":"nominal","scale":{"domain":["Quintile 1","Quintile 2","Quintile 3","Quintile 4","Quintile 5"],"range":["#a6cfe5","#75b8dc","#4196c9","#2474b5","#0c4f9b"]},"legend":null},
  "strokeDash":{"field":"c","type":"nominal","scale":{"domain":["Non-Carrier","Carrier"],"range":[[4,3],[1,0]]},"legend":null}
 }},
{"width":297,"height":142,"title":{"text":["All of Us","Dilated Cardiomyopathy"],"offset":20},"data":{"name":"aou"},"transform":[{"filter":"datum.d === 'DCM'"}],
 "mark":{"type":"line","strokeWidth":1.5,"interpolate":"monotone"},
 "encoding":{
  "x":{"field":"a","type":"quantitative","scale":{"domain":[44.8,75.5],"nice":false,"zero":false},"axis":{"values":[45,50,55,60,65,70,75],"format":"d","title":"Age (Years)","labelPadding":10,"titlePadding":8}},
  "y":{"field":"v","type":"quantitative","scale":{"domain":[0,0.415],"nice":false},"axis":{"values":[0,0.05,0.1,0.15,0.2,0.25,0.3,0.35,0.4],"format":".2f","title":["Cumulative Incidence of","DCM"]}},
  "color":{"field":"q","type":"nominal","scale":{"domain":["Quintile 1","Quintile 2","Quintile 3","Quintile 4","Quintile 5"],"range":["#a6cfe5","#75b8dc","#4196c9","#2474b5","#0c4f9b"]},"legend":{"title":"Disease Specific PRS Quintile","legendX":-200,"legendY":203}},
  "strokeDash":{"field":"c","type":"nominal","scale":{"domain":["Non-Carrier","Carrier"],"range":[[4,3],[1,0]]},"legend":{"title":"Line Type","legendX":-84,"legendY":223,"symbolStrokeColor":"#222"}}
 }},
{"width":297,"height":142,"title":{"text":"Hypertrophic Cardiomyopathy","offset":20},"data":{"name":"aou"},"transform":[{"filter":"datum.d === 'HCM'"}],
 "mark":{"type":"line","strokeWidth":1.5,"interpolate":"monotone"},
 "encoding":{
  "x":{"field":"a","type":"quantitative","scale":{"domain":[44.8,75.5],"nice":false,"zero":false},"axis":{"values":[45,50,55,60,65,70,75],"format":"d","title":"Age (Years)","labelPadding":10,"titlePadding":8}},
  "y":{"field":"v","type":"quantitative","scale":{"domain":[0,0.415],"nice":false},"axis":{"values":[0,0.05,0.1,0.15,0.2,0.25,0.3,0.35,0.4],"format":".2f","title":["Cumulative Incidence of","HCM"]}},
  "color":{"field":"q","type":"nominal","scale":{"domain":["Quintile 1","Quintile 2","Quintile 3","Quintile 4","Quintile 5"],"range":["#a6cfe5","#75b8dc","#4196c9","#2474b5","#0c4f9b"]},"legend":null},
  "strokeDash":{"field":"c","type":"nominal","scale":{"domain":["Non-Carrier","Carrier"],"range":[[4,3],[1,0]]},"legend":null}
 }}
]
}
